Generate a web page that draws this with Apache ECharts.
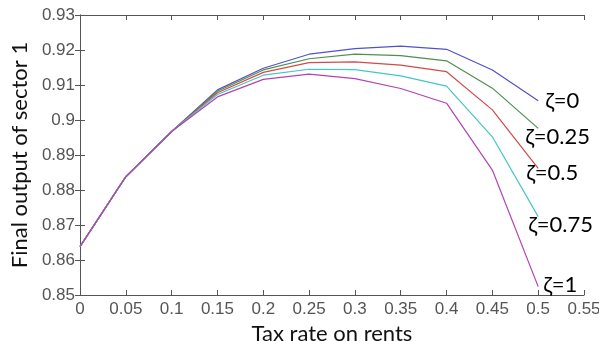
<!DOCTYPE html>
<html>
<head>
<meta charset="utf-8">
<script src="https://cdn.jsdelivr.net/npm/echarts@6/dist/echarts.min.js"></script>
<style>
  html, body { margin: 0; padding: 0; background: #fff; }
  #chart { width: 599px; height: 341px; }
</style>
</head>
<body>
<div id="chart"></div>
<script>
const taxRate = [0, 0.05, 0.1, 0.15, 0.2, 0.25, 0.3, 0.35, 0.4, 0.45, 0.5]
const zeta0   = [0.8638, 0.8838, 0.8967, 0.9086, 0.9148, 0.9188, 0.9204, 0.9211, 0.9202, 0.9143, 0.9055]
const zeta025 = [0.8638, 0.8838, 0.8967, 0.9082, 0.9143, 0.9175, 0.9188, 0.9184, 0.9169, 0.9091, 0.8976]
const zeta05  = [0.8638, 0.8838, 0.8967, 0.9078, 0.9136, 0.9164, 0.9166, 0.9157, 0.9138, 0.9029, 0.8862]
const zeta075 = [0.8638, 0.8838, 0.8967, 0.9073, 0.9128, 0.9145, 0.9144, 0.9126, 0.9097, 0.8952, 0.8724]
const zeta1   = [0.8638, 0.8838, 0.8967, 0.9066, 0.9116, 0.9131, 0.9118, 0.9090, 0.9048, 0.8857, 0.8524]
const seriesNames = ['ζ=0', 'ζ=0.25', 'ζ=0.5', 'ζ=0.75', 'ζ=1']
const seriesValues = [zeta0, zeta025, zeta05, zeta075, zeta1]
const colors = ['#5252c6', '#4f8f4f', '#d24a4a', '#44c6c6', '#b044b4']
// label nudges so the text sits where the original has it
const labelOffsets = [[3, 0], [-17, 9], [-16, 5], [-14, 8], [1, -2]]

function tick(v) {
    return String(+v.toFixed(2))
}

let chart = echarts.init(document.getElementById('chart'))

let series = seriesValues.map((vals, i) => ({
    name: seriesNames[i],
    type: 'line',
    data: vals.map((v, j) => [taxRate[j], v]),
    showSymbol: false,
    symbol: 'none',
    lineStyle: { color: colors[i], width: 1.2 },
    itemStyle: { color: colors[i] },
    endLabel: {
        show: true,
        formatter: seriesNames[i],
        fontFamily: 'Lato',
        fontSize: 22,
        color: '#000',
        distance: 4,
        offset: labelOffsets[i]
    },
    animation: false
}))

let axisLine = { show: true, lineStyle: { color: '#555', width: 1 } }
let axisTick = { show: true, inside: true, length: 5, lineStyle: { color: '#555' } }

chart.setOption({
    animation: false,
    grid: { left: 80, right: 15, top: 15, bottom: 46, containLabel: false, outerBoundsMode: 'none' },
    xAxis: [
        {
            type: 'value', min: 0, max: 0.55, interval: 0.05,
            name: 'Tax rate on rents', nameLocation: 'middle', nameGap: 25,
            nameTextStyle: { fontFamily: 'Lato', fontSize: 22, color: '#111' },
            axisLine: axisLine, axisTick: axisTick, splitLine: { show: false },
            axisLabel: { formatter: tick, fontFamily: 'Liberation Sans', fontSize: 17, color: '#555', margin: 6 }
        },
        {
            type: 'value', position: 'top', min: 0, max: 0.55, interval: 0.05,
            axisLine: axisLine, axisTick: axisTick, splitLine: { show: false },
            axisLabel: { show: false }
        }
    ],
    yAxis: [
        {
            type: 'value', min: 0.85, max: 0.93, interval: 0.01,
            name: 'Final output of sector 1', nameLocation: 'middle', nameGap: 45,
            nameTextStyle: { fontFamily: 'Lato', fontSize: 22, color: '#111' },
            axisLine: axisLine, axisTick: axisTick, splitLine: { show: false },
            axisLabel: { formatter: tick, fontFamily: 'Liberation Sans', fontSize: 17, color: '#555', margin: 5 }
        },
        {
            type: 'value', position: 'right', min: 0.85, max: 0.93, interval: 0.01,
            axisLine: axisLine, axisTick: axisTick, splitLine: { show: false },
            axisLabel: { show: false }
        }
    ],
    series: series
})
</script>
</body>
</html>
